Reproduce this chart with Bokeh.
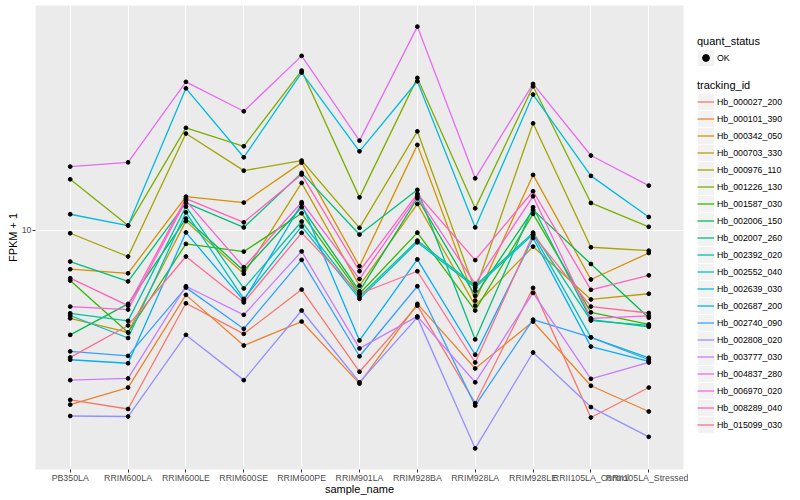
from bokeh.plotting import figure
from bokeh.layouts import row
from bokeh.models import (FactorRange, Range1d, FixedTicker, PrintfTickFormatter,
                          Legend, LegendItem)
from bokeh.embed import file_html
from bokeh.resources import INLINE
import math

samples = ["PB350LA", "RRIM600LA", "RRIM600LE", "RRIM600SE", "RRIM600PE",
           "RRIM901LA", "RRIM928BA", "RRIM928LA", "RRIM928LE",
           "RRII105LA_Control", "RRII105LA_Stressed"]

tracking_ids = ["Hb_000027_200", "Hb_000101_390", "Hb_000342_050", "Hb_000703_330",
                "Hb_000976_110", "Hb_001226_130", "Hb_001587_030", "Hb_002006_150",
                "Hb_002007_260", "Hb_002392_020", "Hb_002552_040", "Hb_002639_030",
                "Hb_002687_200", "Hb_002740_090", "Hb_002808_020", "Hb_003777_030",
                "Hb_004837_280", "Hb_006970_020", "Hb_008289_040", "Hb_015099_030"]

# FPKM + 1 per sample (same order as samples)
Hb_000027_200 = [4.43, 4.24, 7.04, 6.08, 7.52, 5.07, 6.96, 4.36, 7.58, 4.07, 4.70]
Hb_000101_390 = [4.33, 4.70, 7.33, 5.75, 6.45, 4.79, 7.02, 5.15, 6.45, 4.74, 4.19]
Hb_000342_050 = [8.29, 8.13, 11.74, 11.41, 13.82, 8.41, 15.05, 7.13, 13.03, 7.89, 8.96]
Hb_000703_330 = [6.55, 6.12, 10.44, 8.11, 12.54, 7.66, 11.34, 6.96, 9.24, 7.17, 7.37]
Hb_000976_110 = [9.85, 8.81, 15.89, 13.30, 13.96, 10.11, 16.06, 7.48, 16.69, 9.21, 9.06]
Hb_001226_130 = [12.76, 10.22, 16.33, 14.95, 21.49, 11.70, 20.75, 11.10, 19.93, 11.39, 10.16]
Hb_001587_030 = [7.85, 6.12, 9.36, 9.02, 10.84, 7.37, 9.88, 6.80, 10.81, 6.74, 6.36]
Hb_002006_150 = [6.05, 7.02, 10.57, 8.23, 11.16, 7.46, 11.65, 7.30, 11.02, 8.50, 6.57]
Hb_002007_260 = [8.60, 7.82, 11.39, 10.13, 13.16, 9.79, 12.13, 5.92, 11.16, 6.51, 6.29]
Hb_002392_020 = [6.71, 6.47, 11.19, 7.56, 10.42, 7.27, 9.51, 7.66, 9.88, 6.48, 6.33]
Hb_002552_040 = [6.64, 5.96, 10.89, 7.19, 10.18, 7.19, 9.43, 7.59, 9.80, 5.98, 5.42]
Hb_002639_030 = [10.79, 10.22, 19.74, 14.18, 21.29, 14.59, 20.42, 10.13, 19.16, 12.97, 10.65]
Hb_002687_200 = [5.37, 5.28, 9.89, 7.13, 11.34, 5.89, 8.69, 5.50, 9.63, 5.72, 5.33]
Hb_002740_090 = [5.59, 5.47, 7.59, 6.23, 8.67, 5.46, 7.64, 4.31, 6.51, 5.98, 5.37]
Hb_002808_020 = [4.10, 4.09, 6.05, 4.87, 6.80, 4.82, 6.58, 3.51, 5.56, 4.28, 3.71]
Hb_003777_030 = [4.87, 4.91, 7.64, 6.66, 9.03, 5.67, 6.61, 4.82, 7.40, 4.90, 5.30]
Hb_004837_280 = [13.56, 13.84, 20.36, 17.68, 23.06, 15.36, 26.54, 12.82, 20.16, 14.30, 12.38]
Hb_006970_020 = [6.93, 6.83, 11.52, 8.37, 11.43, 7.91, 11.76, 7.73, 11.76, 6.55, 6.63]
Hb_008289_040 = [7.94, 6.96, 11.63, 10.38, 13.05, 8.21, 11.90, 8.66, 12.05, 7.51, 8.05]
Hb_015099_030 = [5.43, 6.33, 8.81, 7.07, 9.87, 7.37, 8.21, 5.30, 9.79, 6.93, 6.72]

series = [Hb_000027_200, Hb_000101_390, Hb_000342_050, Hb_000703_330, Hb_000976_110,
          Hb_001226_130, Hb_001587_030, Hb_002006_150, Hb_002007_260, Hb_002392_020,
          Hb_002552_040, Hb_002639_030, Hb_002687_200, Hb_002740_090, Hb_002808_020,
          Hb_003777_030, Hb_004837_280, Hb_006970_020, Hb_008289_040, Hb_015099_030]

colors = ["#F8766D", "#EA8331", "#D89000", "#C09B00", "#A3A500", "#7CAE00", "#39B600",
          "#00BB4E", "#00BF7D", "#00C1A3", "#00BFC4", "#00BAE0", "#00B0F6", "#35A2FF",
          "#9590FF", "#C77CFF", "#E76BF3", "#FA62DB", "#FF62BC", "#FF6C91"]

y_ticks = [10]
quant_status = ["OK"]

FONT = "Liberation Sans"

# page geometry (pixels)
MAIN_W, H = 688, 500
BORDER_L, BORDER_R, BORDER_T, BORDER_B = 35, 5, 5, 31
LEG_W = 800 - MAIN_W

# log-scale y range with 5% expansion (ggplot style)
all_vals = [v for s in series for v in s]
lo, hi = math.log10(min(all_vals)), math.log10(max(all_vals))
span = hi - lo
ylo, yhi = 10 ** (lo - 0.05 * span), 10 ** (hi + 0.05 * span)

p = figure(x_range=FactorRange(factors=samples, range_padding=0.1,
                               range_padding_units="absolute"),
           y_axis_type="log", y_range=Range1d(ylo, yhi),
           width=MAIN_W, height=H, output_backend="svg", toolbar_location=None,
           min_border_left=BORDER_L, min_border_right=BORDER_R,
           min_border_top=BORDER_T, min_border_bottom=BORDER_B,
           background_fill_color="#EBEBEB", border_fill_color="white",
           outline_line_color=None)

p.xgrid.grid_line_color = "white"
p.xgrid.grid_line_width = 1.1
p.ygrid.ticker = FixedTicker(ticks=y_ticks, minor_ticks=[])
p.ygrid.grid_line_color = "white"
p.ygrid.grid_line_width = 1.1
p.ygrid.minor_grid_line_color = None

for ax in (p.xaxis[0], p.yaxis[0]):
    ax.axis_line_color = None
    ax.major_tick_line_color = "#333333"
    ax.major_tick_out = 3
    ax.major_tick_in = 0
    ax.minor_tick_line_color = None
    ax.major_label_text_font = FONT
    ax.major_label_text_font_size = "8.8px"
    ax.major_label_text_color = "#4D4D4D"
    ax.axis_label_text_font = FONT
    ax.axis_label_text_font_size = "11px"
    ax.axis_label_text_font_style = "normal"
    ax.axis_label_text_color = "black"

p.xaxis.major_label_standoff = 0
p.xaxis.axis_label_standoff = -3
p.yaxis.major_label_standoff = 1
p.yaxis.axis_label_standoff = 0

p.xaxis.axis_label = "sample_name"
p.yaxis.axis_label = "FPKM + 1"
p.yaxis.ticker = FixedTicker(ticks=y_ticks, minor_ticks=[])
p.yaxis.formatter = PrintfTickFormatter(format="%d")

for vals, col in zip(series, colors):
    p.line(x=samples, y=vals, line_color=col, line_width=1.3)
for vals in series:
    p.scatter(x=samples, y=vals, size=3.8, color="black")

# ---- legend panel (screen-aligned coordinates) ----
lg = figure(width=LEG_W, height=H, x_range=Range1d(0, LEG_W),
            y_range=Range1d(H - BORDER_B, BORDER_T),
            output_backend="svg", toolbar_location=None,
            x_axis_type=None, y_axis_type=None,
            min_border_left=0, min_border_right=0,
            min_border_top=BORDER_T, min_border_bottom=BORDER_B,
            outline_line_color=None, background_fill_color="white",
            border_fill_color="white")
lg.grid.visible = False

KEY = 17
LEG_X = 9
KEY1_TOP = 49
KEY2_TOP = 93
frame_bottom = H - BORDER_B

# grey key backgrounds (ggplot legend.key)
key_y = [KEY1_TOP + KEY / 2] + [KEY2_TOP + KEY / 2 + KEY * i for i in range(len(tracking_ids))]
lg.rect(x=[LEG_X + KEY / 2] * len(key_y), y=key_y, width=KEY - 1, height=KEY - 1,
        fill_color="#F2F2F2", line_color=None)

# legend-only glyph renderers (no drawable data; they only provide legend swatches)
nan2 = [math.nan, math.nan]
ok_r = lg.scatter(x=nan2, y=nan2, size=4, color="black")
line_rs = [lg.line(x=nan2, y=nan2, line_color=c, line_width=1.3) for c in colors]

common = dict(glyph_width=KEY, glyph_height=KEY, label_height=KEY, label_standoff=3,
              spacing=0, padding=0, margin=0, border_line_color=None,
              background_fill_alpha=0, label_text_font=FONT,
              label_text_font_size="8.8px", label_text_color="black",
              title_text_font=FONT, title_text_font_size="11px",
              title_text_font_style="normal", title_text_color="black")

leg1 = Legend(items=[LegendItem(label=q, renderers=[ok_r]) for q in quant_status],
              title="quant_status", title_standoff=2,
              location=(LEG_X, frame_bottom - (KEY1_TOP + KEY)), **common)
leg2 = Legend(items=[LegendItem(label=t, renderers=[r]) for t, r in zip(tracking_ids, line_rs)],
              title="tracking_id", title_standoff=2,
              location=(LEG_X, frame_bottom - (KEY2_TOP + KEY * len(tracking_ids))),
              **common)
lg.add_layout(leg1)
lg.add_layout(leg2)

layout = row(p, lg)
open("out.html", "w").write(file_html(layout, INLINE))
